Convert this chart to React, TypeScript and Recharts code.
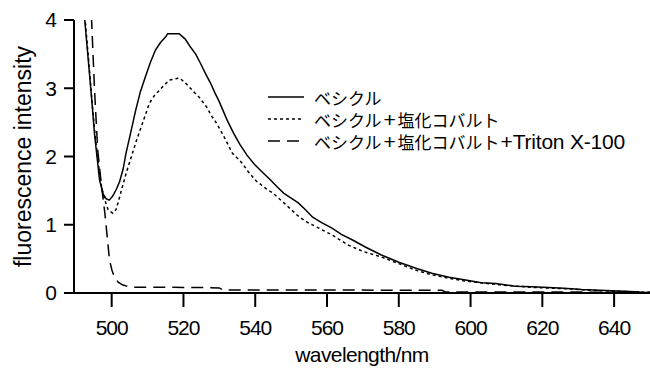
import React from 'react';
import { LineChart, Line, XAxis, YAxis, Legend } from 'recharts';

// wavelength (nm) / intensity pairs
const WL_VESICLE = [491.6, 492.5, 493.5, 494.5, 495.2, 496.6, 497.6, 498.5, 499.3, 500.3, 501.3, 502.2, 503.2, 504, 505.3, 506.7, 508, 509.4, 510.8, 512.2, 513.6, 515, 515.6, 518.8, 520.5, 522, 523.4, 524.7, 526, 527.5, 528.7, 530, 532.2, 534, 535.8, 537.7, 539.7, 542, 544.2, 546, 548, 550, 552, 554, 556, 558.5, 561.4, 564, 567, 570.8, 575, 580, 585, 589.2, 594, 598.6, 603, 607, 612.5, 617, 621.7, 626, 631, 636, 641, 646, 650];
const INT_VESICLE = [4.4, 4.0, 3.4, 2.8, 2.34, 1.66, 1.45, 1.38, 1.36, 1.42, 1.52, 1.63, 1.82, 2.05, 2.35, 2.68, 2.95, 3.17, 3.38, 3.56, 3.67, 3.75, 3.8, 3.8, 3.72, 3.6, 3.5, 3.37, 3.23, 3.08, 2.94, 2.8, 2.53, 2.34, 2.17, 2.02, 1.89, 1.77, 1.66, 1.56, 1.46, 1.39, 1.32, 1.22, 1.11, 1.03, 0.95, 0.86, 0.78, 0.67, 0.56, 0.45, 0.36, 0.29, 0.23, 0.19, 0.15, 0.14, 0.1, 0.09, 0.08, 0.07, 0.05, 0.04, 0.03, 0.02, 0.0];

const WL_COBALT = [491.8, 492.6, 493.6, 494.6, 495.4, 496.4, 497.2, 498.1, 499, 500.3, 501.2, 501.7, 502.8, 504, 505.8, 507, 508.6, 510.5, 512, 513.3, 514.7, 516.1, 518.9, 520.5, 522.5, 524.5, 526.4, 528, 529.2, 531.5, 533.6, 536.4, 538, 540.3, 543, 545, 548, 551.7, 554, 557, 561.4, 566, 570, 575, 580, 584.4, 589, 593.6, 598, 602.8, 608, 613, 618, 623, 628, 633, 638, 644, 650];
const INT_COBALT = [4.4, 4.0, 3.4, 2.75, 2.3, 1.85, 1.55, 1.36, 1.22, 1.17, 1.22, 1.31, 1.52, 1.75, 2.05, 2.25, 2.49, 2.78, 2.9, 2.97, 3.05, 3.12, 3.15, 3.08, 2.97, 2.86, 2.73, 2.58, 2.49, 2.27, 2.05, 1.9, 1.78, 1.64, 1.53, 1.46, 1.32, 1.14, 1.05, 0.97, 0.85, 0.7, 0.61, 0.53, 0.43, 0.34, 0.27, 0.22, 0.18, 0.15, 0.12, 0.1, 0.08, 0.07, 0.06, 0.04, 0.03, 0.02, 0.01];

const WL_TRITON = [494.0, 494.4, 495.2, 496.1, 497.1, 498.1, 498.8, 499.4, 500.1, 500.8, 501.8, 503, 504.5, 506, 515, 525, 530, 531, 560, 580, 592, 593, 620, 650];
const INT_TRITON = [4.6, 4.0, 3.0, 2.1, 1.6, 1.17, 0.8, 0.48, 0.33, 0.23, 0.16, 0.12, 0.095, 0.085, 0.085, 0.08, 0.075, 0.045, 0.045, 0.04, 0.04, 0.015, 0.015, 0.01];

const X_TICKS = [500, 520, 540, 560, 580, 600, 620, 640];
const Y_TICKS = [0, 1, 2, 3, 4];

const zip = (xs: number[], ys: number[]) => xs.map((x, i) => ({ x, y: ys[i] }));

const SERIES = [
  { name: 'ベシクル', data: zip(WL_VESICLE, INT_VESICLE), dash: undefined as string | undefined },
  { name: 'ベシクル+塩化コバルト', data: zip(WL_COBALT, INT_COBALT), dash: '3 3' },
  { name: 'ベシクル+塩化コバルト+Triton X-100', data: zip(WL_TRITON, INT_TRITON), dash: '12 7' },
];

const FONT = "'Liberation Sans', Arial, 'Noto Sans CJK JP', sans-serif";

// latin runs (plus signs, "Triton X-100") are drawn larger than the kana, as in the figure
const LegendName = ({ text }: { text: string }) => (
  <span style={{ whiteSpace: 'nowrap' }}>
    {text.split(/([A-Za-z0-9 +\-]+)/).filter(Boolean).map((part, i) =>
      /[A-Za-z0-9+\-]/.test(part) ? (
        <span key={i} style={{ fontSize: 21, letterSpacing: -0.2, margin: part === '+' ? '0 2px' : '0 0 0 1px' }}>
          {part}
        </span>
      ) : (
        <span key={i} style={{ fontSize: 17 }}>{part}</span>
      )
    )}
  </span>
);

const LegendBox = () => (
  <div style={{ fontFamily: FONT, color: '#000', textAlign: 'left' }}>
    {SERIES.map((s) => (
      <div key={s.name} style={{ display: 'flex', alignItems: 'center', height: 22 }}>
        <svg width={36} height={4} style={{ marginRight: 10 }}>
          <line x1={0} y1={2} x2={36} y2={2} stroke="#000" strokeWidth={1.5} strokeDasharray={s.dash} />
        </svg>
        <LegendName text={s.name} />
      </div>
    ))}
  </div>
);

export default function App() {
  const tick = { fontSize: 21, fill: '#000', fontFamily: FONT, letterSpacing: -1 };
  return (
    <div style={{ position: 'absolute', left: 0, top: 0, background: '#fff' }}>
      <LineChart width={650} height={369} margin={{ top: 20, right: 0, bottom: 0, left: 0 }}>
        <XAxis
          dataKey="x"
          type="number"
          domain={[489.5, 650]}
          ticks={X_TICKS}
          interval={0}
          allowDataOverflow
          height={76}
          tick={tick}
          tickSize={14}
          tickMargin={13}
          stroke="#000"
          strokeWidth={2}
          label={{ value: 'wavelength/nm', position: 'insideBottom', offset: 7, fontSize: 21, fill: '#000', fontFamily: FONT, letterSpacing: -0.6 }}
        />
        <YAxis
          type="number"
          domain={[0, 4]}
          ticks={Y_TICKS}
          interval={0}
          allowDataOverflow
          width={74}
          tick={tick}
          tickSize={10}
          tickMargin={8}
          stroke="#000"
          strokeWidth={2}
          label={{ value: 'fluorescence intensity', angle: -90, position: 'center', dx: -14, fontSize: 23, fill: '#000', fontFamily: FONT }}
        />
        <Legend
          layout="horizontal"
          verticalAlign="middle"
          align="center"
          content={() => <LegendBox />}
          wrapperStyle={{ position: 'absolute', left: 268, top: 86, width: 'auto' }}
        />
        {SERIES.map((s) => (
          <Line
            key={s.name}
            data={s.data}
            dataKey="y"
            name={s.name}
            type="linear"
            stroke="#000"
            strokeWidth={1.5}
            strokeDasharray={s.dash}
            dot={false}
            activeDot={false}
            isAnimationActive={false}
          />
        ))}
      </LineChart>
    </div>
  );
}
